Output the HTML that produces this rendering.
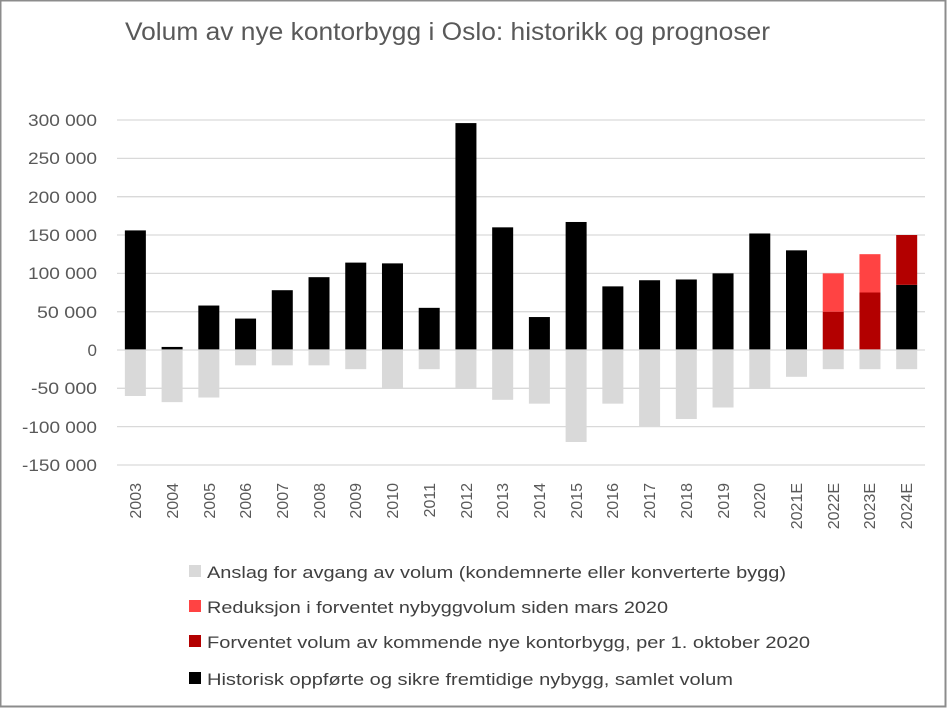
<!DOCTYPE html>
<html><head><meta charset="utf-8"><style>
body{margin:0;background:#fff}
svg{display:block;font-family:"Liberation Sans",sans-serif}
</style></head><body>
<svg id="s" width="947" height="708" xmlns="http://www.w3.org/2000/svg">
<rect x="0.5" y="0.5" width="945" height="706" fill="#fff" stroke="#8c8c8c" stroke-width="2"/>
<text x="125" y="40" font-size="25" fill="#595959" textLength="645" lengthAdjust="spacingAndGlyphs">Volum av nye kontorbygg i Oslo: historikk og prognoser</text>
<g id="grid" stroke="#d9d9d9" stroke-width="1.3"></g>
<g font-size="17" fill="#595959" text-anchor="end">
<text x="97" y="126" textLength="69" lengthAdjust="spacingAndGlyphs">300 000</text><text x="97" y="164" textLength="69" lengthAdjust="spacingAndGlyphs">250 000</text><text x="97" y="203" textLength="69" lengthAdjust="spacingAndGlyphs">200 000</text>
<text x="97" y="241" textLength="69" lengthAdjust="spacingAndGlyphs">150 000</text><text x="97" y="279" textLength="69" lengthAdjust="spacingAndGlyphs">100 000</text><text x="97" y="318" textLength="60" lengthAdjust="spacingAndGlyphs">50 000</text>
<text x="97" y="356">0</text><text x="97" y="394" textLength="66" lengthAdjust="spacingAndGlyphs">-50 000</text><text x="97" y="433" textLength="75" lengthAdjust="spacingAndGlyphs">-100 000</text>
<text x="97" y="471" textLength="75" lengthAdjust="spacingAndGlyphs">-150 000</text>
</g>
<g id="bars"></g>
<g font-size="16" fill="#595959" text-anchor="end" id="xl">
<text transform="translate(141,483) rotate(-90)">2003</text>
<text transform="translate(178,483) rotate(-90)">2004</text>
<text transform="translate(215,483) rotate(-90)">2005</text>
<text transform="translate(251,483) rotate(-90)">2006</text>
<text transform="translate(288,483) rotate(-90)">2007</text>
<text transform="translate(325,483) rotate(-90)">2008</text>
<text transform="translate(361,483) rotate(-90)">2009</text>
<text transform="translate(398,483) rotate(-90)">2010</text>
<text transform="translate(435,483) rotate(-90)">2011</text>
<text transform="translate(472,483) rotate(-90)">2012</text>
<text transform="translate(508,483) rotate(-90)">2013</text>
<text transform="translate(545,483) rotate(-90)">2014</text>
<text transform="translate(582,483) rotate(-90)">2015</text>
<text transform="translate(618,483) rotate(-90)">2016</text>
<text transform="translate(655,483) rotate(-90)">2017</text>
<text transform="translate(692,483) rotate(-90)">2018</text>
<text transform="translate(729,483) rotate(-90)">2019</text>
<text transform="translate(765,483) rotate(-90)">2020</text>
<text transform="translate(802,483) rotate(-90)">2021E</text>
<text transform="translate(839,483) rotate(-90)">2022E</text>
<text transform="translate(875,483) rotate(-90)">2023E</text>
<text transform="translate(912,483) rotate(-90)">2024E</text>
</g>
<g font-size="17" fill="#404040">
<rect x="189" y="565" width="12" height="12" fill="#d9d9d9"/><text x="207" y="578" textLength="579" lengthAdjust="spacingAndGlyphs">Anslag for avgang av volum (kondemnerte eller konverterte bygg)</text>
<rect x="189" y="600" width="12" height="12" fill="#ff4343"/><text x="207" y="613" textLength="461" lengthAdjust="spacingAndGlyphs">Reduksjon i forventet nybyggvolum siden mars 2020</text>
<rect x="189" y="635" width="12" height="12" fill="#b30000"/><text x="207" y="648" textLength="603" lengthAdjust="spacingAndGlyphs">Forventet volum av kommende nye kontorbygg, per 1. oktober 2020</text>
<rect x="189" y="672" width="12" height="12" fill="#000"/><text x="207" y="685" textLength="526" lengthAdjust="spacingAndGlyphs">Historisk oppførte og sikre fremtidige nybygg, samlet volum</text>
</g>
</svg>
<script>
var NS="http://www.w3.org/2000/svg",g=document.getElementById("grid"),b=document.getElementById("bars");
function el(p,a){var e=document.createElementNS(NS,"rect");for(var k in a)e.setAttribute(k,a[k]);p.appendChild(e);}
var y0=350,k=38.33/50000;
for(var v=300000;v>=-150000;v-=50000){if(v==0)continue;var l=document.createElementNS(NS,"line");var y=y0-v*k;l.setAttribute("x1",117);l.setAttribute("x2",925);l.setAttribute("y1",y);l.setAttribute("y2",y);g.appendChild(l);}
var pos=[156,4,58,41,78,95,114,113,55,296,160,43,167,83,91,92,100,152,130,0,0,85];
var dr=[0,0,0,0,0,0,0,0,0,0,0,0,0,0,0,0,0,0,0,50,75,65];
var lr=[0,0,0,0,0,0,0,0,0,0,0,0,0,0,0,0,0,0,0,50,50,0];
var neg=[60,68,62,20,20,20,25,50,25,50,65,70,120,70,100,90,75,50,35,25,25,25];
for(var i=0;i<22;i++){var c=117+36.73*(i+0.5),x=c-10.5,w=21,t=0;
function seg(h,col){if(!h)return;h*=1000;el(b,{x:x,y:y0-(t+h)*k,width:w,height:h*k,fill:col});t+=h;}
el(b,{x:x,y:y0,width:w,height:neg[i]*1000*k,fill:"#d9d9d9"});
seg(pos[i],"#000");seg(dr[i],"#b30000");seg(lr[i],"#ff4343");}
var z=document.createElementNS(NS,"line");z.setAttribute("x1",117);z.setAttribute("x2",925);z.setAttribute("y1",350);z.setAttribute("y2",350);z.setAttribute("stroke","#d9d9d9");z.setAttribute("stroke-width","1.3");b.appendChild(z);
</script>
</body></html>
